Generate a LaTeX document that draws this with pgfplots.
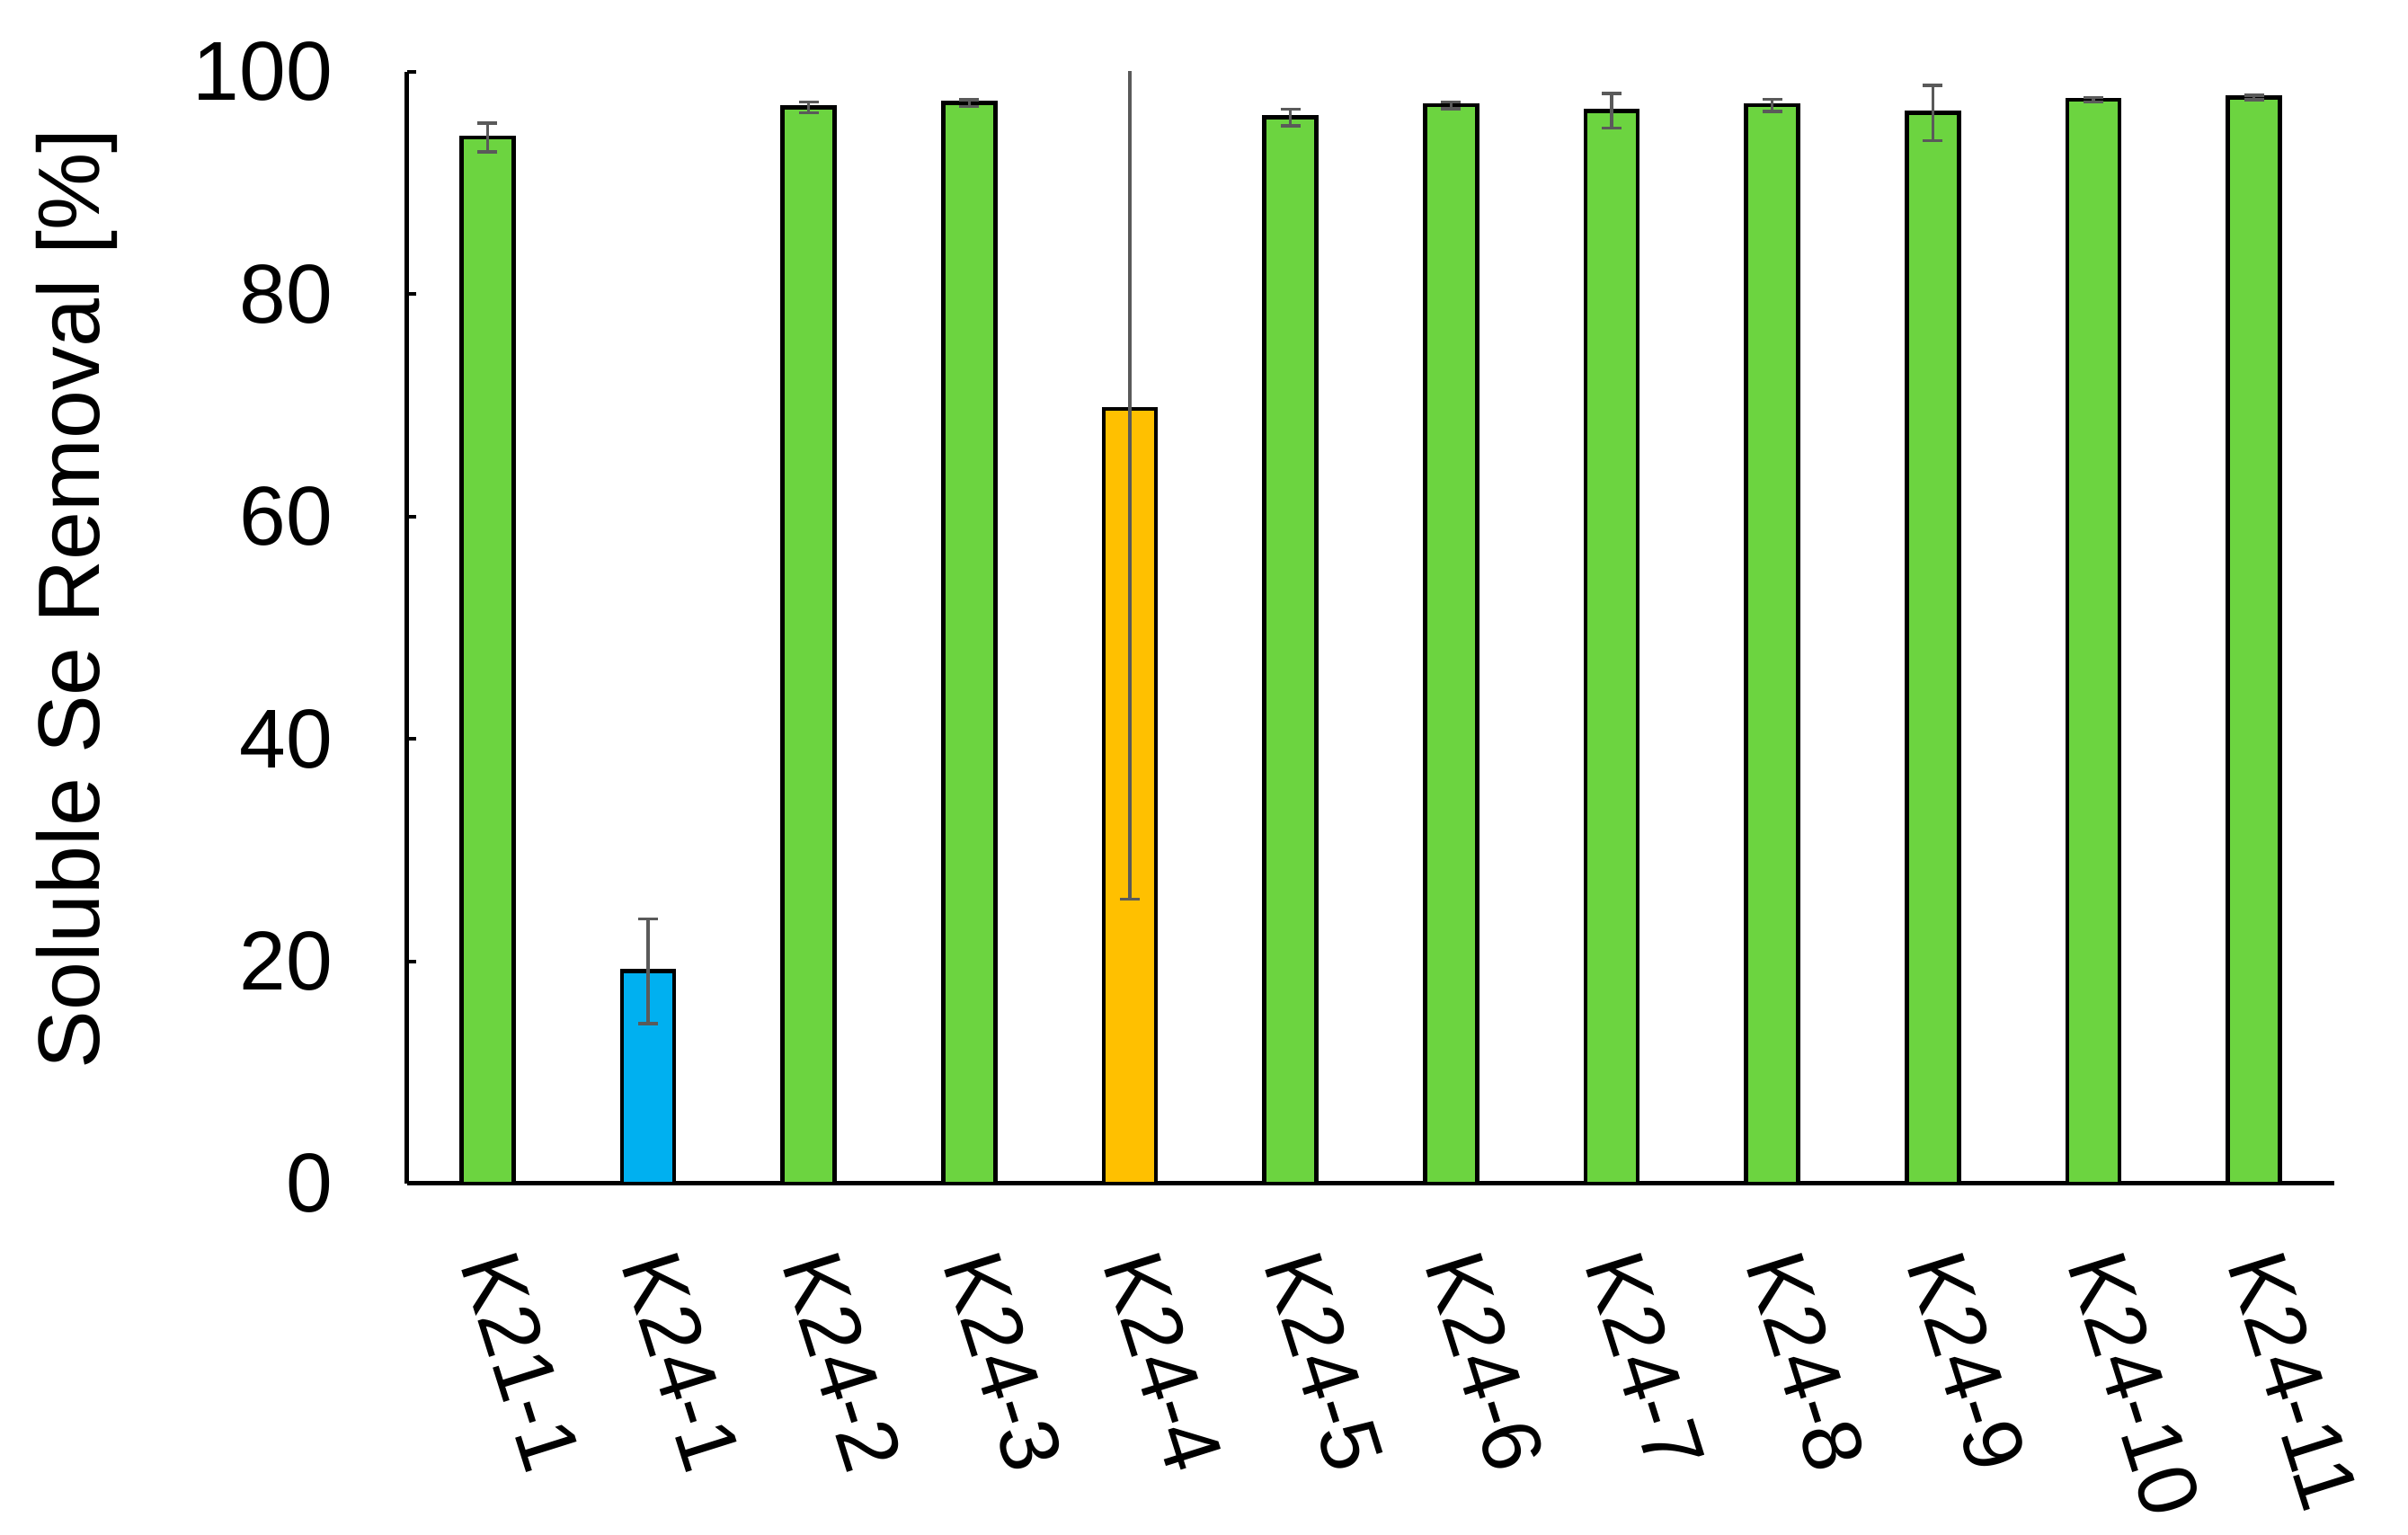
\documentclass[border=0pt]{standalone}
\usepackage{pgfplots}
\pgfplotsset{compat=1.18}
\usepackage{pgfplotstable}
\usepackage{fontspec}
\setmainfont{Liberation Sans}
\definecolor{cgreen}{RGB}{108,212,64}
\definecolor{cblue}{RGB}{0,176,240}
\definecolor{corange}{RGB}{255,192,0}
\definecolor{cerr}{RGB}{90,90,90}

\pgfplotstableread{
x y e
0 94.1 1.3
2 96.8 0.5
3 97.2 0.3
5 95.9 0.75
6 97.0 0.3
7 96.5 1.55
8 97.0 0.55
9 96.3 2.5
10 97.5 0.2
11 97.7 0.2
}\greendata
\pgfplotstableread{
x y e
1 19.1 4.7
}\bluedata
\pgfplotstableread{
x y e
4 69.7 44.1
}\orangedata

\begin{document}
\begin{tikzpicture}
\begin{axis}[
  scale only axis, width=214.4pt, height=123.7pt,
  xmin=-0.5, xmax=11.5, ymin=0, ymax=100,
  axis x line*=bottom, axis y line*=left,
  axis line style={black, line width=0.5pt},
  xtick={0,...,11},
  xticklabels={K21-1,K24-1,K24-2,K24-3,K24-4,K24-5,K24-6,K24-7,K24-8,K24-9,K24-10,K24-11},
  ytick={0,20,...,100},
  xtick style={draw=none},
  ytick style={black, line width=0.4pt},
  tick align=inside, major tick length=1pt,
  /pgf/number format/assume math mode=true,
  tick label style={font=\fontsize{9.3}{11}\selectfont},
  yticklabel style={anchor=east, inner sep=0pt},
  yticklabel shift=8.1pt,
  xticklabel style={anchor=west, rotate=-72.5, inner sep=0pt},
  xticklabel shift=6.8pt,
  ylabel={Soluble Se Removal [\%]},
  ylabel style={font=\fontsize{9.7}{11}\selectfont, at={(axis description cs:-0.1716,0.526)}, anchor=center},
  ybar, bar width=0.325,
]
\addplot[ybar, bar shift=0pt, draw=black, line width=0.45pt, fill=cgreen,
  error bars/.cd, y dir=both, y explicit,
  error bar style={cerr, line width=0.35pt},
  error mark options={rotate=90, mark size=1.1pt, cerr, line width=0.35pt}]
  table[x=x, y=y, y error=e]{\greendata};
\addplot[ybar, bar shift=0pt, draw=black, line width=0.45pt, fill=cblue,
  error bars/.cd, y dir=both, y explicit,
  error bar style={cerr, line width=0.35pt},
  error mark options={rotate=90, mark size=1.1pt, cerr, line width=0.35pt}]
  table[x=x, y=y, y error=e]{\bluedata};
\addplot[ybar, bar shift=0pt, draw=black, line width=0.45pt, fill=corange,
  error bars/.cd, y dir=both, y explicit,
  error bar style={cerr, line width=0.35pt},
  error mark options={rotate=90, mark size=1.1pt, cerr, line width=0.35pt}]
  table[x=x, y=y, y error=e]{\orangedata};
\end{axis}
\pgfresetboundingbox
\path[use as bounding box] (current axis.south west) ++(-45.3pt,-39.1pt) rectangle ++(267.9pt,170.8pt);
\end{tikzpicture}
\end{document}
